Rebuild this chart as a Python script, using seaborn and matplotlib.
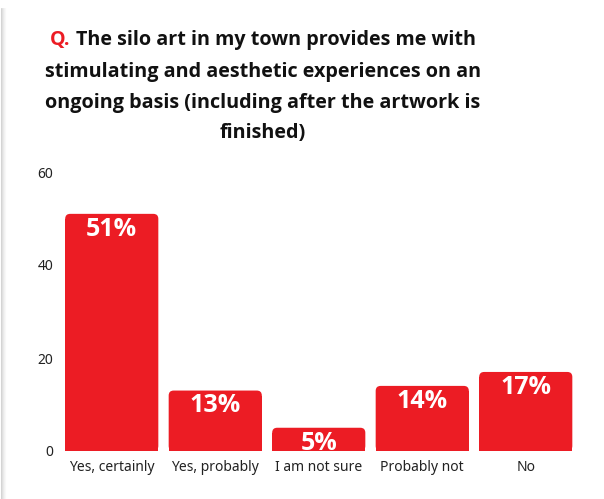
import matplotlib
matplotlib.use("Agg")
import matplotlib.pyplot as plt
import seaborn as sns
import pandas as pd
from matplotlib.patches import FancyBboxPatch
from matplotlib.lines import Line2D

# data
answers = ["Yes, certainly", "Yes, probably", "I am not sure", "Probably not", "No"]
percent = [51, 13, 5, 14, 17]
y_ticks = [0, 20, 40, 60]

title_lines = [
    "The silo art in my town provides me with",
    "stimulating and aesthetic experiences on an",
    "ongoing basis (including after the artwork is",
    "finished)",
]

RED = "#ec1c24"
BOLD = ["Open Sans", "DejaVu Sans"]

sns.set_theme(style="white")
plt.rcParams["font.family"] = ["Noto Sans", "DejaVu Sans"]

df = pd.DataFrame({"answer": answers, "percent": percent})

fig = plt.figure(figsize=(6.04, 4.99), dpi=100)
ax = fig.add_axes([60 / 604, 48 / 499, 517.5 / 604, 279 / 499])

sns.barplot(data=df, x="answer", y="percent", color=RED, saturation=1,
            width=0.9, linewidth=0, ax=ax)

ax.set_ylim(0, 60)
ax.set_yticks(y_ticks)
ax.set_xlabel("")
ax.set_ylabel("")
sns.despine(ax=ax, left=True, bottom=True)
ax.tick_params(axis="x", length=0, pad=6.5, labelsize=10, labelcolor="#222222")
ax.tick_params(axis="y", length=0, pad=5, labelsize=10, labelcolor="#222222")

# rounded top corners: radius of ~5 px
fig.canvas.draw()
px_x = ax.transData.transform((1, 0))[0] - ax.transData.transform((0, 0))[0]
px_y = ax.transData.transform((0, 1))[1] - ax.transData.transform((0, 0))[1]
rx = 5 / px_x
ry = 5 / px_y
for bar in list(ax.patches):
    x0, w, h = bar.get_x(), bar.get_width(), bar.get_height()
    bar.set_height(h - ry)
    ax.add_patch(FancyBboxPatch((x0 + rx, ry), w - 2 * rx, h - 2 * ry,
                                boxstyle=f"round,pad={rx},rounding_size={rx}",
                                mutation_aspect=ry / rx,
                                facecolor=RED, edgecolor="none", linewidth=0))
    ax.annotate(f"{h:.0f}%", (x0 + w / 2, h), xytext=(0, -11),
                textcoords="offset points", ha="center", va="center",
                color="white", fontsize=18, fontweight="bold", family=BOLD)

# title: "Q." in red, rest black
cx = 263 / 604
ys = [40, 72, 103, 133]
fs = 14.2
renderer = fig.canvas.get_renderer()
first = fig.text(cx, 1 - ys[0] / 499, "Q. " + title_lines[0], ha="center", va="center",
                 fontsize=fs, fontweight="bold", family=BOLD, color="#111111")
bb = first.get_window_extent(renderer)
first.remove()
fig.text(bb.x0 / 604, 1 - ys[0] / 499, "Q.", ha="left", va="center",
         fontsize=fs, fontweight="bold", family=BOLD, color=RED)
fig.text(bb.x1 / 604, 1 - ys[0] / 499, title_lines[0], ha="right", va="center",
         fontsize=fs, fontweight="bold", family=BOLD, color="#111111")
for line, y in zip(title_lines[1:], ys[1:]):
    fig.text(cx, 1 - y / 499, line, ha="center", va="center",
             fontsize=fs, fontweight="bold", family=BOLD, color="#111111")

# soft shadow along the left edge
for i, c in enumerate(["#d4d4d4", "#e0e0e0", "#eaeaea", "#f2f2f2", "#f8f8f8"]):
    fig.add_artist(Line2D([(i + 0.5) / 604] * 2, [0, 1 - 8 / 499],
                          transform=fig.transFigure, color=c, linewidth=0.75))

fig.savefig("out.png", dpi=100, facecolor="white")
